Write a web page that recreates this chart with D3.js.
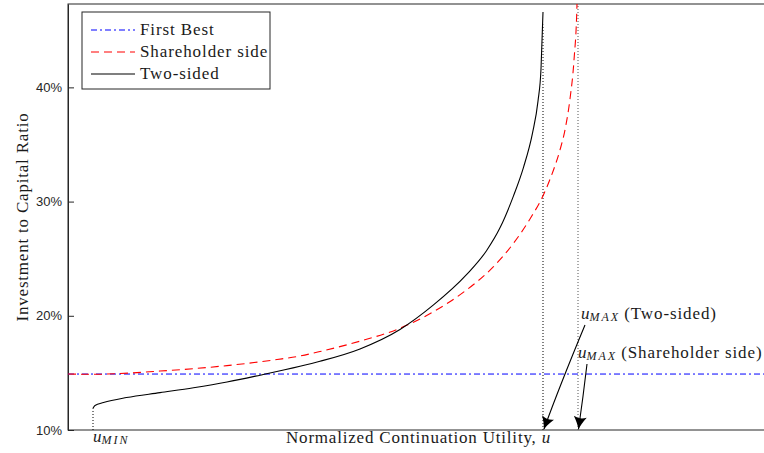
<!DOCTYPE html>
<html>
<head>
<meta charset="utf-8">
<script src="https://cdn.jsdelivr.net/npm/d3@7"></script>
<style>
  html, body { margin: 0; padding: 0; background: #fff; }
  svg { display: block; }
  .serif { font-family: "Liberation Serif", "DejaVu Serif", serif; }
</style>
</head>
<body>
<svg id="chart" width="764" height="453"></svg>
<script>
// Normalized continuation utility u (x) and investment-to-capital ratio in % (y)
const firstBestRatio = 14.9;

const shareholderU = [-0.05, 0.0, 0.134, 0.268, 0.368, 0.414, 0.454, 0.534, 0.614, 0.681, 0.747, 0.801, 0.841, 0.874, 0.901, 0.921, 0.934, 0.945, 0.954, 0.962, 0.968, 0.970];
const shareholderI = [14.90, 14.88, 15.16, 15.64, 16.17, 16.48, 16.87, 17.78, 18.91, 20.36, 22.26, 24.30, 26.35, 28.48, 30.6, 32.77, 34.52, 36.5, 39.0, 42.4, 47.3, 52.0];

const twoSidedU = [0.0, 0.004, 0.021, 0.067, 0.134, 0.201, 0.268, 0.334, 0.414, 0.454, 0.534, 0.614, 0.681, 0.747, 0.787, 0.814, 0.841, 0.861, 0.879, 0.890, 0.896, 0.900];
const twoSidedI = [11.90, 12.15, 12.40, 12.84, 13.27, 13.70, 14.20, 14.80, 15.58, 16.02, 17.10, 18.80, 20.95, 23.6, 25.7, 27.7, 30.5, 33.0, 36.0, 38.8, 41.6, 46.6];

const uMin = 0.0;
const uMaxTwoSided = 0.900;
const uMaxShareholder = 0.970;

const yTicks = [10, 20, 30, 40];
const legendLabels = ["First Best", "Shareholder side", "Two-sided"];

const svg = d3.select("#chart");
const plotLeft = 68, plotTop = 4, plotBottom = 430, plotRight = 793;

const x = d3.scaleLinear().domain([-0.05, 1.4]).range([plotLeft, plotRight]);
const y = d3.scaleLinear().domain([10, 47.3]).range([plotBottom, plotTop]);

const defs = svg.append("defs");
defs.append("clipPath").attr("id", "plotClip")
  .append("rect").attr("x", plotLeft).attr("y", plotTop)
  .attr("width", plotRight - plotLeft).attr("height", plotBottom - plotTop);

const axisColor = "#262626";
const textColor = "#1a1a1a";

// Plot frame
svg.append("rect")
  .attr("x", plotLeft).attr("y", plotTop).attr("width", plotRight - plotLeft).attr("height", plotBottom - plotTop)
  .attr("fill", "none").attr("stroke", axisColor).attr("stroke-width", 1);

// Y axis with inward ticks
const yAxis = d3.axisLeft(y).tickValues(yTicks).tickFormat(d => d + "%").tickSizeInner(-6).tickSizeOuter(0).tickPadding(6);
const yg = svg.append("g").attr("transform", `translate(${plotLeft},0)`).call(yAxis);
yg.select(".domain").attr("stroke", axisColor);
yg.selectAll(".tick line").attr("stroke", axisColor);
yg.selectAll(".tick text")
  .attr("fill", axisColor)
  .style("font-family", "'Liberation Sans', Arial, sans-serif")
  .style("font-size", "13px");

const plot = svg.append("g").attr("clip-path", "url(#plotClip)");

const line = d3.line().x(d => x(d[0])).y(d => y(d[1])).curve(d3.curveMonotoneX);

// Reference lines at the utility bounds
plot.append("line")
  .attr("x1", x(uMin)).attr("x2", x(uMin))
  .attr("y1", y(10)).attr("y2", y(twoSidedI[0]))
  .attr("stroke", "#000").attr("stroke-width", 1).attr("stroke-dasharray", "1,2");
plot.append("line")
  .attr("x1", x(uMaxTwoSided)).attr("x2", x(uMaxTwoSided))
  .attr("y1", y(10)).attr("y2", y(45.5))
  .attr("stroke", "#000").attr("stroke-width", 1).attr("stroke-dasharray", "1,2");
plot.append("line")
  .attr("x1", x(uMaxShareholder)).attr("x2", x(uMaxShareholder))
  .attr("y1", y(10)).attr("y2", y(47.3))
  .attr("stroke", "#555").attr("stroke-width", 1).attr("stroke-dasharray", "1,2");

// First best
plot.append("line")
  .attr("x1", x(-0.05)).attr("x2", x(1.4))
  .attr("y1", y(firstBestRatio)).attr("y2", y(firstBestRatio))
  .attr("stroke", "#0000ff").attr("stroke-width", 1).attr("stroke-dasharray", "6,3,2,3");

// Shareholder side
plot.append("path")
  .datum(d3.zip(shareholderU, shareholderI))
  .attr("d", line).attr("fill", "none")
  .attr("stroke", "#ff0000").attr("stroke-width", 1.1).attr("stroke-dasharray", "8,5");

// Two-sided
plot.append("path")
  .datum(d3.zip(twoSidedU, twoSidedI))
  .attr("d", line).attr("fill", "none")
  .attr("stroke", "#000").attr("stroke-width", 1.1);

// Arrows pointing at the upper bounds
defs.append("marker").attr("id", "arrowHead")
  .attr("viewBox", "0 0 10 10").attr("refX", 9.5).attr("refY", 5)
  .attr("markerWidth", 15).attr("markerHeight", 13).attr("markerUnits", "userSpaceOnUse")
  .attr("orient", "auto")
  .append("path").attr("d", "M0,0 Q6,4 10,5 Q6,6 0,10 Q2.5,5 0,0 Z").attr("fill", "#000");

svg.append("path")
  .attr("d", `M585,325 Q560,385 ${x(uMaxTwoSided) + 1},${plotBottom - 1}`)
  .attr("fill", "none").attr("stroke", "#000").attr("stroke-width", 1.1)
  .attr("marker-end", "url(#arrowHead)");
svg.append("path")
  .attr("d", `M587,364 Q583,398 ${x(uMaxShareholder) + 0.5},${plotBottom - 1}`)
  .attr("fill", "none").attr("stroke", "#000").attr("stroke-width", 1.1)
  .attr("marker-end", "url(#arrowHead)");

// Annotation labels
function subLabel(g, xp, yp, sub, rest) {
  const t = g.append("text").attr("class", "serif").attr("x", xp).attr("y", yp)
    .attr("fill", textColor).style("font-size", "17px");
  t.append("tspan").style("font-style", "italic").text("u");
  t.append("tspan").style("font-style", "italic").style("font-size", "12px")
    .style("letter-spacing", "2px").attr("dy", 2).text(sub);
  if (rest) t.append("tspan").attr("dy", -2).attr("dx", 4).style("letter-spacing", "0.9px").text(rest);
  return t;
}
subLabel(svg, 581, 319, "MAX", "(Two-sided)");
subLabel(svg, 578, 358, "MAX", "(Shareholder side)");
subLabel(svg, 93, 442, "MIN", null);

// Axis titles
const xt = svg.append("text").attr("class", "serif").attr("x", 286).attr("y", 443)
  .attr("fill", textColor).style("font-size", "17px").style("letter-spacing", "0.8px");
xt.append("tspan").text("Normalized Continuation Utility, ");
xt.append("tspan").style("font-style", "italic").text("u");

svg.append("text").attr("class", "serif")
  .attr("transform", "translate(28,217) rotate(-90)")
  .attr("text-anchor", "middle").attr("fill", textColor)
  .style("font-size", "17px").style("letter-spacing", "0.8px")
  .text("Investment to Capital Ratio");

// Legend
const lg = svg.append("g");
lg.append("rect").attr("x", 82).attr("y", 12).attr("width", 188).attr("height", 77)
  .attr("fill", "#fff").attr("stroke", axisColor).attr("stroke-width", 1);
const legendStyles = [
  { color: "#0000ff", dash: "6,3,2,3" },
  { color: "#ff0000", dash: "8,5" },
  { color: "#000", dash: null }
];
legendLabels.forEach((label, i) => {
  const yy = 30 + i * 22;
  lg.append("line").attr("x1", 91).attr("x2", 135).attr("y1", yy).attr("y2", yy)
    .attr("stroke", legendStyles[i].color).attr("stroke-width", 1.1)
    .attr("stroke-dasharray", legendStyles[i].dash);
  lg.append("text").attr("class", "serif").attr("x", 140).attr("y", yy + 5)
    .attr("fill", textColor).style("font-size", "17px").style("letter-spacing", "0.9px").text(label);
});
</script>
</body>
</html>
